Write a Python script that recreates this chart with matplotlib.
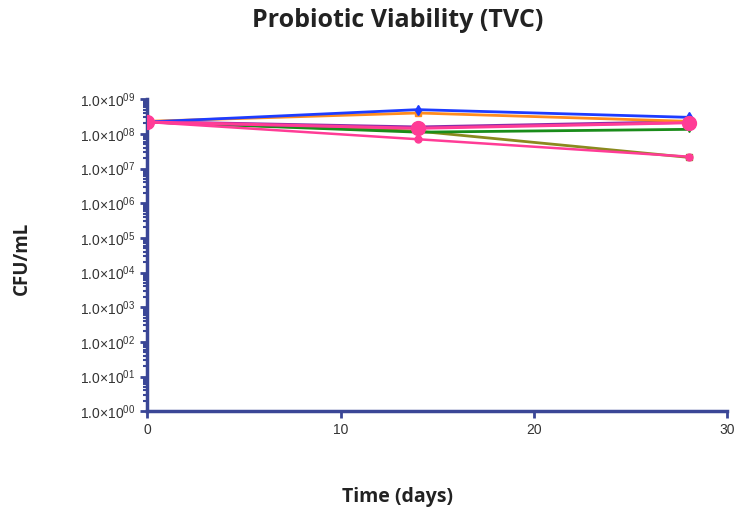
import matplotlib
matplotlib.use("Agg")
import matplotlib.pyplot as plt
from matplotlib.ticker import LogLocator, FixedLocator, NullFormatter
import numpy as np

plt.rcParams["mathtext.fontset"] = "custom"
plt.rcParams["mathtext.rm"] = "Liberation Sans"
plt.rcParams["mathtext.it"] = "Liberation Sans:italic"
plt.rcParams["mathtext.bf"] = "Liberation Sans:bold"

days = [0, 14, 28]
series_blue = [2.2e8, 5.0e8, 3.0e8]
series_orange = [2.3e8, 4.0e8, 2.3e8]
series_purple = [2.2e8, 1.55e8, 2.2e8]
series_green = [2.2e8, 1.12e8, 1.35e8]
series_olive = [2.2e8, 1.2e8, 2.1e7]
series_pink_thin = [2.2e8, 7.0e7, 2.2e7]
series_pink = [2.2e8, 1.45e8, 2.1e8]

x_ticks = [0, 10, 20, 30]
y_exponents = list(range(0, 10))
y_tick_labels = [r"1.0×10$^{%02d}$" % e for e in y_exponents]

AXC = "#3a4696"

fig = plt.figure(figsize=(7.36, 5.14), dpi=100)
ax = fig.add_axes([0.2, 0.2, 0.788, 0.607])

ax.plot(days, series_olive, color="#8a8a1e", lw=2, marker="s", ms=4, zorder=3)
ax.plot(days, series_green, color="#1a8c1a", lw=2, marker="v", ms=4, zorder=3)
ax.plot(days, series_pink_thin, color="#ff3c96", lw=1.8, marker="o", ms=5, zorder=4)
ax.plot(days, series_purple, color="#8a2aa8", lw=2.5, marker="o", ms=4, zorder=3)
ax.plot(days, series_orange, color="#ff8c1e", lw=2, marker="s", ms=5, zorder=3)
ax.plot(days, series_blue, color="#1e3cff", lw=2, marker="d", ms=5, zorder=3)
ax.plot(days, series_pink, color="#ff3c96", lw=2.2, marker="o", ms=10, zorder=5)

ax.set_yscale("log")
ax.set_ylim(1, 1e9)
ax.set_xlim(0, 30)
ax.yaxis.set_major_locator(FixedLocator([10.0**e for e in y_exponents]))
ax.set_yticklabels(y_tick_labels, family="Liberation Sans")
ax.yaxis.set_minor_locator(LogLocator(base=10, subs=np.arange(2, 10), numticks=20))
ax.yaxis.set_minor_formatter(NullFormatter())
ax.set_xticks(x_ticks)
ax.set_xticklabels([str(t) for t in x_ticks], family="Liberation Sans")

for s in ["top", "right"]:
    ax.spines[s].set_visible(False)
for s in ["left", "bottom"]:
    ax.spines[s].set_color(AXC)
    ax.spines[s].set_linewidth(2.5)

ax.tick_params(axis="both", which="major", color=AXC, width=2, length=5,
               labelcolor="#333333", labelsize=10)
ax.tick_params(axis="y", which="minor", color=AXC, width=1.5, length=3)

fig.text(0.54, 0.961, "Probiotic Viability (TVC)", fontsize=18, fontweight="bold",
         family="Open Sans", color="#222222", ha="center", va="center")
fig.text(0.03, 0.497, "CFU/mL", rotation=90, fontsize=13.5, fontweight="bold",
         family="Open Sans", color="#222222", ha="center", va="center")
fig.text(0.54, 0.033, "Time (days)", fontsize=14, fontweight="bold",
         family="Open Sans", color="#222222", ha="center", va="center")

fig.savefig("out.png", dpi=100)
